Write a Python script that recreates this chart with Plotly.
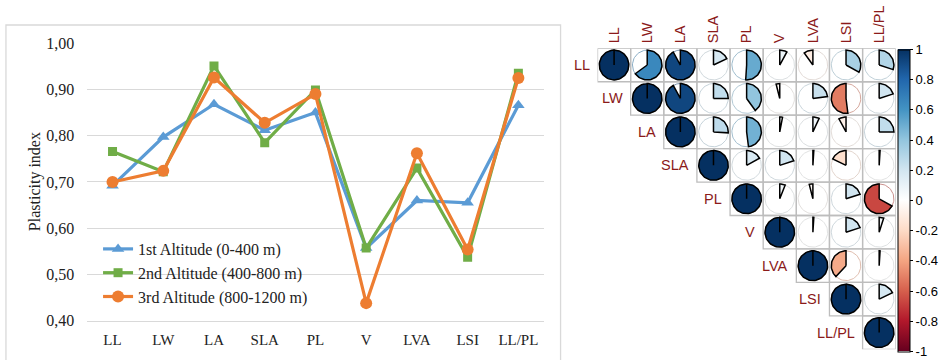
import math
import plotly.graph_objects as go

# ---------------- data ----------------
traits = ["LL", "LW", "LA", "SLA", "PL", "V", "LVA", "LSI", "LL/PL"]
alt1 = [0.692, 0.797, 0.868, 0.812, 0.850, 0.557, 0.660, 0.655, 0.866]
alt2 = [0.766, 0.722, 0.951, 0.785, 0.899, 0.557, 0.730, 0.537, 0.935]
alt3 = [0.700, 0.724, 0.926, 0.828, 0.890, 0.438, 0.762, 0.554, 0.925]
series_names = ["1st Altitude (0-400 m)", "2nd Altitude (400-800 m)", "3rd Altitude (800-1200 m)"]
y_tickvals = [0.4, 0.5, 0.6, 0.7, 0.8, 0.9, 1.0]
y_ticktext = ["0,40", "0,50", "0,60", "0,70", "0,80", "0,90", "1,00"]

# correlation matrix, upper triangle rows (starting at the diagonal)
corr_rows = [
    [1, 0.65, 0.92, 0.18, 0.51, 0.08, -0.10, 0.33, 0.30],
    [1, 0.92, 0.25, 0.40, -0.04, 0.23, -0.52, 0.20],
    [1, 0.26, 0.48, 0.03, 0.07, -0.08, 0.25],
    [1, 0.17, 0.20, 0.01, -0.18, 0.01],
    [1, 0.06, -0.04, 0.20, -0.67],
    [1, 0.01, 0.20, 0.05],
    [1, -0.38, 0.01],
    [1, 0.18],
    [1],
]
cb_vals = [-1, -0.8, -0.6, -0.4, -0.2, 0, 0.2, 0.4, 0.6, 0.8, 1]
cb_text = ["-1", "-0.8", "-0.6", "-0.4", "-0.2", "0", "0.2", "0.4", "0.6", "0.8", "1"]

# ---------------- styles ----------------
W, H = 939, 360
SERIF = "Liberation Serif, Times New Roman, serif"
SANS = "Liberation Sans, Arial, sans-serif"
colors = ["#5B9BD5", "#70AD47", "#ED7D31"]
symbols = ["triangle-up", "square", "circle"]
msizes = [11, 9, 12]
rdbu = ["#67001F", "#B2182B", "#D6604D", "#F4A582", "#FDDBC7", "#FFFFFF",
        "#D1E5F0", "#92C5DE", "#4393C3", "#2166AC", "#053061"]
colorscale = [[i / 10, c] for i, c in enumerate(rdbu)]
LABEL_RED = "#8B1A1A"


def hex2rgb(h):
    h = h.lstrip("#")
    return [int(h[i:i + 2], 16) for i in (0, 2, 4)]


def value_color(v):
    t = (v + 1) / 2 * 10
    i = min(int(math.floor(t)), 9)
    f = t - i
    a, b = hex2rgb(rdbu[i]), hex2rgb(rdbu[i + 1])
    return [a[k] + (b[k] - a[k]) * f for k in range(3)]


def rgb(c):
    return "rgb(%d,%d,%d)" % tuple(round(x) for x in c)


def blend(c1, c2, w):
    return [c1[k] * (1 - w) + c2[k] * w for k in range(3)]


fig = go.Figure()

# ---------------- left: line chart ----------------
for vals, name, col, sym, ms in zip([alt1, alt2, alt3], series_names, colors, symbols, msizes):
    fig.add_trace(go.Scatter(
        x=traits, y=vals, name=name, mode="lines+markers",
        line=dict(color=col, width=3.2),
        marker=dict(symbol=sym, size=ms, color=col),
        xaxis="x", yaxis="y",
    ))

# ---------------- right: correlation pies ----------------
R = 0.445
N = len(traits)
shapes = []
for i in range(N):
    for k, v in enumerate(corr_rows[i]):
        j = i + k
        cx, cy = j + 1, i + 1
        shapes.append(dict(type="rect", xref="x2", yref="y2",
                           x0=cx - 0.5, x1=cx + 0.5, y0=cy - 0.5, y1=cy + 0.5,
                           line=dict(color="#BDBDBD", width=1.3), layer="below"))
        col = value_color(v)
        # background circle
        n = 72
        xs = [cx + R * math.sin(2 * math.pi * s / n) for s in range(n + 1)]
        ys = [cy - R * math.cos(2 * math.pi * s / n) for s in range(n + 1)]
        fig.add_trace(go.Scatter(x=xs, y=ys, mode="lines",
                                 line=dict(color=rgb(blend(col, [205, 205, 205], 0.55)), width=1),
                                 xaxis="x2", yaxis="y2", showlegend=False, hoverinfo="skip"))
        # wedge
        ang = 2 * math.pi * abs(v)
        sgn = 1 if v >= 0 else -1
        m = max(2, int(abs(v) * 90))
        wx = [cx] + [cx + sgn * R * math.sin(ang * s / m) for s in range(m + 1)] + [cx]
        wy = [cy] + [cy - R * math.cos(ang * s / m) for s in range(m + 1)] + [cy]
        fig.add_trace(go.Scatter(x=wx, y=wy, mode="lines", fill="toself",
                                 fillcolor=rgb(col), line=dict(color="black", width=1.5),
                                 xaxis="x2", yaxis="y2", showlegend=False, hoverinfo="skip"))

# colorbar carrier
fig.add_trace(go.Scatter(
    x=[None], y=[None], mode="markers", xaxis="x2", yaxis="y2", showlegend=False,
    marker=dict(color=[-1, 1], cmin=-1, cmax=1, colorscale=colorscale, showscale=True,
                colorbar=dict(x=907 / W, xanchor="left", y=1 - 200.5 / H, yanchor="middle",
                              len=302 / H, lenmode="fraction", thickness=12,
                              xpad=0, ypad=0, outlinewidth=1, outlinecolor="black",
                              tickvals=cb_vals, ticktext=cb_text, ticks="outside",
                              ticklen=3, tickcolor="black",
                              tickfont=dict(family=SANS, size=13, color="black"))),
))

# row labels
annotations = []
for i, name in enumerate(traits):
    annotations.append(dict(xref="x2", yref="y2", x=i + 0.5, y=i + 1, text=name,
                            showarrow=False, xanchor="right", yanchor="middle", xshift=-6,
                            font=dict(family=SANS, size=14.5, color=LABEL_RED)))

# y axis title of left chart
annotations.append(dict(xref="paper", yref="paper", x=35.5 / W, y=1 - 182 / H,
                        text="Plasticity index", textangle=-90, showarrow=False,
                        xanchor="center", yanchor="middle",
                        font=dict(family=SERIF, size=16, color="#222222")))

# chart-area frame of left chart
shapes.append(dict(type="rect", xref="paper", yref="paper",
                   x0=6 / W, x1=566 / W, y0=-0.05, y1=1 - 25 / H,
                   line=dict(color="#D9D9D9", width=1.3)))

fig.update_layout(
    template="none",
    width=W, height=H,
    margin=dict(l=0, r=0, t=0, b=0),
    paper_bgcolor="white", plot_bgcolor="rgba(0,0,0,0)",
    xaxis=dict(domain=[88 / W, 549 / W], type="category", range=[-0.5, 8.5],
               showgrid=False, zeroline=False, showline=True, linecolor="#D9D9D9", linewidth=1.3,
               ticks="", ticklabelstandoff=5, automargin=False, anchor="y",
               tickfont=dict(family=SERIF, size=15, color="#222222")),
    yaxis=dict(domain=[1 - 320.7 / H, 1 - 43 / H], range=[0.4, 1.0005],
               tickvals=y_tickvals, ticktext=y_ticktext,
               showgrid=True, gridcolor="#D9D9D9", gridwidth=1.3, zeroline=False, showline=False,
               ticks="", ticklabelstandoff=12, automargin=False, anchor="x",
               tickfont=dict(family=SERIF, size=16, color="#222222")),
    xaxis2=dict(domain=[603.3 / W, 904.4 / W], range=[0.5, 9.5], side="top", anchor="y2",
                tickvals=list(range(1, N + 1)), ticktext=traits, tickangle=-90,
                showgrid=False, zeroline=False, showline=False, ticks="", automargin=False,
                ticklabelstandoff=4,
                tickfont=dict(family=SANS, size=14.5, color=LABEL_RED)),
    yaxis2=dict(domain=[1 - 349.3 / H, 1 - 48.3 / H], range=[9.5, 0.5], anchor="x2",
                showticklabels=False, showgrid=False, zeroline=False, showline=False,
                ticks="", automargin=False),
    legend=dict(x=99 / W, y=1 - 232 / H, xanchor="left", yanchor="top",
                bgcolor="rgba(0,0,0,0)", borderwidth=0,
                font=dict(family=SERIF, size=16, color="#222222")),
    shapes=shapes,
    annotations=annotations,
)

fig.write_html("out.html", config={"displayModeBar": False},
               post_script="document.body.style.margin='0px';")
